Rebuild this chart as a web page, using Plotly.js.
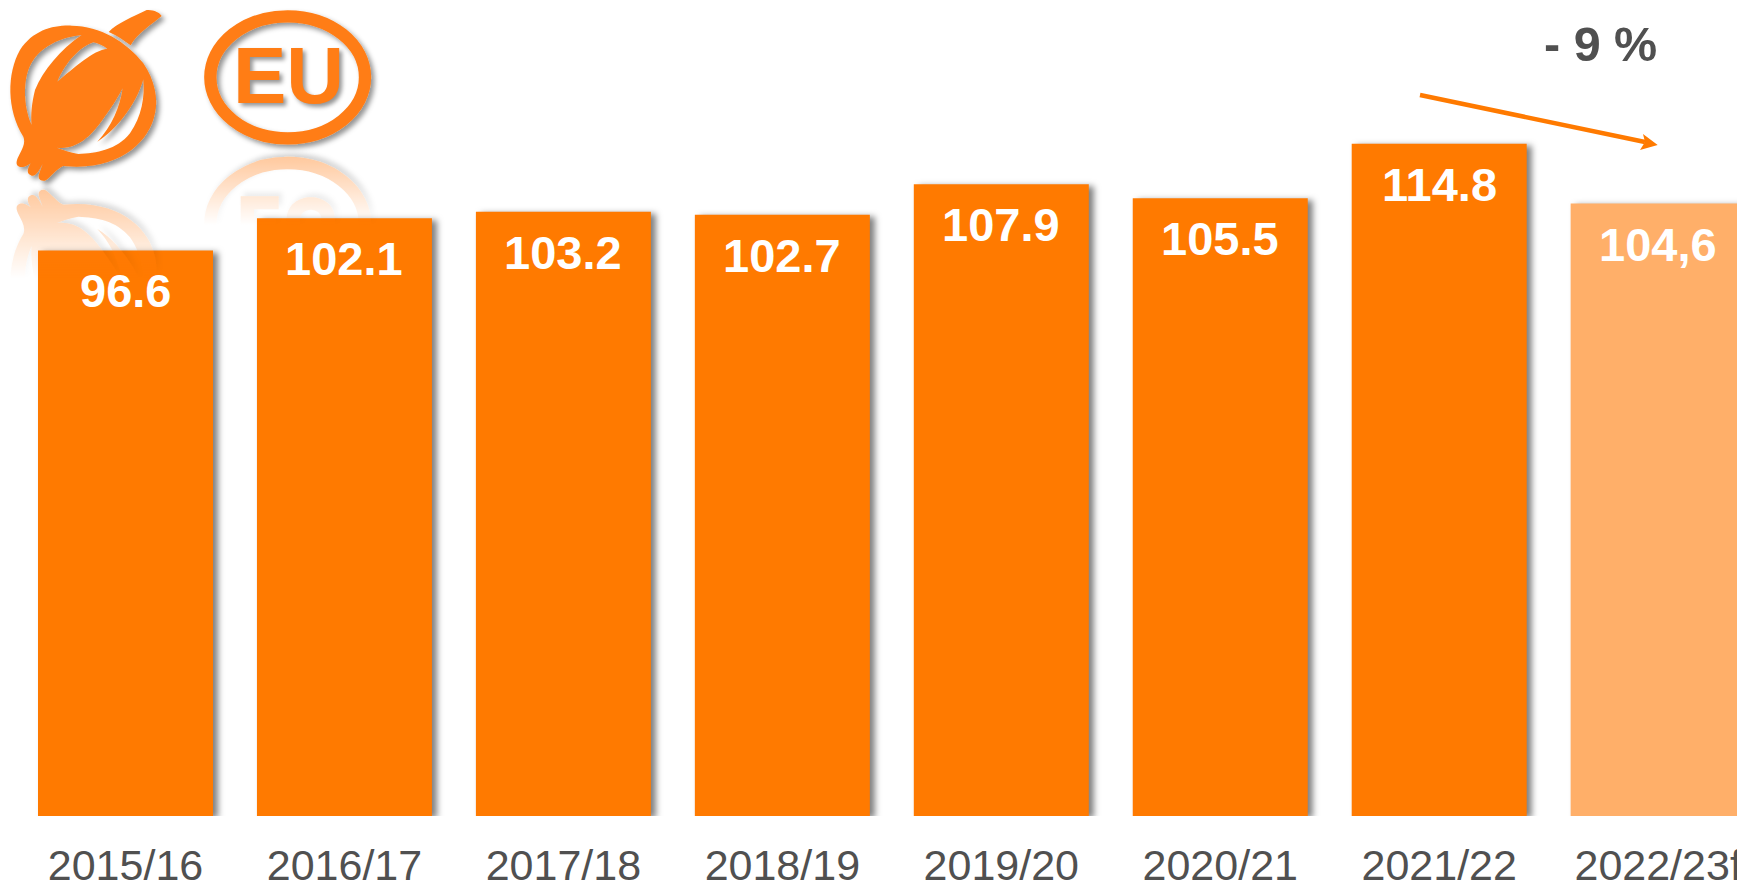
<!DOCTYPE html>
<html>
<head>
<meta charset="utf-8">
<script src="https://cdn.plot.ly/plotly-3.0.1.min.js"></script>
<style>
html,body{margin:0;padding:0;background:#fff;overflow:hidden}
#chart{width:1737px;height:882px}
.barlayer .point path{filter:drop-shadow(5px 2px 3px rgba(0,0,0,.5))}
</style>
</head>
<body>
<div id="chart"></div>
<script>
const categories = ['2015/16','2016/17','2017/18','2018/19','2019/20','2020/21','2021/22','2022/23f'];
const values = [96.6,102.1,103.2,102.7,107.9,105.5,114.8,104.6];
const valueLabels = ['96.6','102.1','103.2','102.7','107.9','105.5','114.8','104,6'];
const changeLabel = '- 9 %';
const logoText = 'EU';

const W = 1737, H = 882, BASE = 816, UNIT = 5.855, STEP = 218.95, FIRST = 125.5;
const px = x => x / W, py = y => (BASE - y) / BASE;

const ORANGE = '#FF7A00', LIGHT = '#FFAF69', LOGO = '#FF7D15', GREY = '#505050';
const FONT = '"Liberation Sans", Arial, sans-serif';

const onionBody = 'M70,410 C20,330 20,220 60,150 C100,90 160,75 215,77 C300,78 380,125 430,190 C465,240 475,300 465,340 C450,420 370,500 230,500 L190,498 C170,505 150,535 135,542 C120,545 112,535 118,520 L128,492 C120,505 110,530 95,527 C80,522 80,510 92,490 C85,495 70,505 58,500 C45,495 50,480 55,470 C65,450 78,430 70,410 Z '
 + 'M95,375 C70,320 65,230 100,180 C130,135 190,110 245,105 C180,150 130,210 105,270 C95,310 92,345 95,375 Z '
 + 'M172,245 C190,200 230,145 280,127 C295,130 310,138 322,146 C280,150 220,205 172,245 Z '
 + 'M170,443 C230,450 270,410 300,370 C330,330 355,290 368,265 C360,320 335,380 292,425 C350,390 410,310 430,238 C435,290 425,350 390,400 C350,450 290,460 235,462 C210,458 190,450 170,443 Z';
const onionStalk = 'M326,96 C350,70 400,50 440,30 C460,28 480,38 485,48 C460,70 410,100 392,136 C372,122 350,105 326,96 Z';
const onion = `<path d="${onionStalk}" fill="${LOGO}"/><path d="${onionBody}" fill="${LOGO}" fill-rule="evenodd"/>`;
const ring = `<ellipse cx="863" cy="232" rx="232" ry="183" fill="none" stroke="${LOGO}" stroke-width="37"/>`;
const euShapes = `<path d="M722,137 H833 V178 H762 V208 H827 V247 H762 V276 H836 V315 H722 Z M860,137 H900 V245 C900,285 965,285 965,245 V137 H1005 V245 C1005,335 860,335 860,245 Z" fill="${LOGO}"/>`;

const svg = `<svg xmlns="http://www.w3.org/2000/svg" width="1260" height="900" viewBox="0 0 1260 900">
<defs>
<filter id="s" x="-20%" y="-20%" width="140%" height="140%"><feDropShadow dx="10" dy="10" stdDeviation="8" flood-color="#000" flood-opacity=".42"/></filter>
<linearGradient id="g1" gradientUnits="userSpaceOnUse" x1="0" y1="570" x2="0" y2="835"><stop offset="0" stop-color="#fff" stop-opacity=".42"/><stop offset="1" stop-color="#fff" stop-opacity="0"/></linearGradient>
<linearGradient id="g2" gradientUnits="userSpaceOnUse" x1="0" y1="470" x2="0" y2="675"><stop offset="0" stop-color="#fff" stop-opacity=".42"/><stop offset="1" stop-color="#fff" stop-opacity="0"/></linearGradient>
<mask id="m1" maskUnits="userSpaceOnUse" x="0" y="0" width="1260" height="900"><rect width="1260" height="900" fill="url(#g1)"/></mask>
<mask id="m2" maskUnits="userSpaceOnUse" x="0" y="0" width="1260" height="900"><rect width="1260" height="900" fill="url(#g2)"/></mask>
</defs>
<g mask="url(#m1)"><g filter="url(#s)" transform="translate(0,1112) scale(1,-1)">${onion}</g></g>
<g mask="url(#m2)"><g filter="url(#s)" transform="translate(0,904) scale(1,-1)">${ring}${euShapes}</g></g>
<g filter="url(#s)">${onion}</g>
<g filter="url(#s)">${ring}</g>
</svg>`;

const trace = {
  type: 'bar',
  x: categories.map((c, i) => i),
  y: values,
  width: 175 / STEP,
  marker: { color: categories.map(c => c.endsWith('f') ? LIGHT : ORANGE), line: { width: 0 } },
  hoverinfo: 'x+y'
};

const labelAnns = values.map((v, i) => ({
  x: i, y: v, xref: 'x', yref: 'y', text: valueLabels[i], showarrow: false,
  yanchor: 'top', xanchor: 'center', yshift: -12,
  font: { family: FONT, size: 47, color: '#fff', weight: 700 }
}));

const layout = {
  width: W, height: H,
  margin: { l: 0, r: 0, t: 0, b: H - BASE, pad: 0 },
  paper_bgcolor: '#fff', plot_bgcolor: '#fff',
  showlegend: false,
  xaxis: {
    range: [-FIRST / STEP, (W - FIRST) / STEP],
    tickmode: 'array', tickvals: categories.map((c, i) => i), ticktext: categories,
    ticks: 'outside', ticklen: 11, tickcolor: 'rgba(0,0,0,0)', ticklabeloverflow: 'allow',
    showgrid: false, zeroline: false, showline: false, automargin: false,
    tickfont: { family: FONT, size: 43, color: GREY }
  },
  yaxis: { range: [0, BASE / UNIT], visible: false, fixedrange: true },
  images: [{
    source: 'data:image/svg+xml;charset=utf-8,' + encodeURIComponent(svg),
    xref: 'paper', yref: 'paper', x: 0, y: 1, sizex: 420 / W, sizey: 300 / BASE,
    xanchor: 'left', yanchor: 'top', sizing: 'stretch', layer: 'above'
  }],
  shapes: [
    { type: 'line', xref: 'paper', yref: 'paper', x0: px(1420), y0: py(95), x1: px(1645), y1: py(142),
      line: { color: ORANGE, width: 4.5 } },
    { type: 'path', xref: 'paper', yref: 'paper',
      path: `M${px(1657.7)},${py(145)} L${px(1643)},${py(134)} L${px(1645)},${py(142)} L${px(1640)},${py(150)} Z`,
      fillcolor: ORANGE, line: { width: 0 } }
  ],
  annotations: labelAnns.concat([
    { xref: 'paper', yref: 'paper', x: px(1600), y: py(44), text: changeLabel, showarrow: false,
      xanchor: 'center', yanchor: 'middle',
      font: { family: FONT, size: 48.5, color: GREY, weight: 700 } },
    { xref: 'paper', yref: 'paper', x: px(288), y: py(75), text: logoText, showarrow: false,
      xanchor: 'center', yanchor: 'middle',
      font: { family: '"Liberation Sans Narrow", ' + FONT, size: 80, color: LOGO, weight: 700,
              shadow: '3px 3px 4px rgba(0,0,0,.42)' } }
  ])
};

Plotly.newPlot('chart', [trace], layout, { displayModeBar: false, staticPlot: true });
</script>
</body>
</html>
